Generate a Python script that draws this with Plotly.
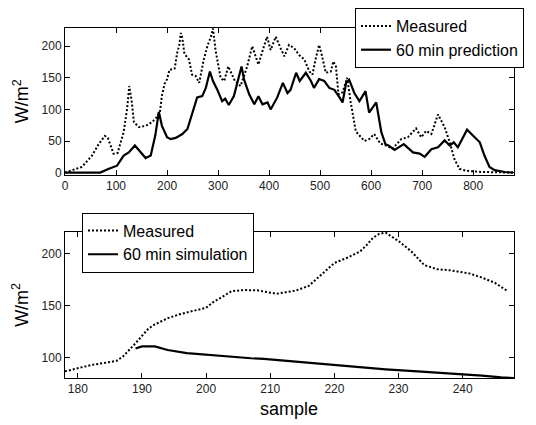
import plotly.graph_objects as go

# ---- top panel data ----
top_meas_x = [0, 14, 33, 53, 66, 78, 84, 95, 103, 115, 122, 126, 131, 135, 145, 158, 171, 180, 186,
              190, 195, 200, 205, 210, 215, 220, 224, 227, 230, 234, 238, 243, 249, 256, 263, 272,
              279, 286, 290, 295, 305, 312, 320, 325, 333, 344, 357, 367, 379, 390, 396, 403, 413,
              423, 430, 439, 449, 459, 469, 479, 485, 491, 498, 504, 511, 521, 526, 531, 536, 544,
              553, 560, 570, 587, 596, 606, 618, 629, 642, 659, 672, 688, 698, 708, 718, 731, 744,
              754, 763, 773, 786, 800, 818, 880]
top_meas_y = [0, 3.7, 9, 27, 45, 58, 55, 30, 31, 64, 103, 137, 111, 80, 72, 74, 80, 88, 96,
              122, 140, 148, 163, 163, 165, 190, 202, 221, 213, 188, 184, 179, 155, 153, 142, 179,
              200, 215, 228, 194, 150, 145, 168, 158, 145, 137, 168, 200, 171, 200, 215, 194, 215,
              196, 184, 202, 197, 186, 179, 160, 155, 179, 202, 184, 158, 160, 176, 168, 124, 127,
              150, 111, 65, 50, 53, 61, 46, 43, 38, 53, 56, 70, 56, 66, 61, 92, 72,
              48, 22, 6, 3, 2, 1, 0]

top_pred_x = [0, 69, 86, 102, 115, 125, 137, 148, 158, 168, 177, 184, 190, 200, 207, 217, 230, 240,
              246, 251, 259, 269, 276, 284, 290, 298, 308, 314, 321, 331, 338, 346, 351, 361, 371,
              379, 387, 397, 403, 416, 427, 436, 442, 453, 460, 472, 482, 488, 498, 508, 518, 528,
              538, 544, 551, 557, 567, 577, 589, 596, 610, 620, 628, 634, 646, 664, 682, 695, 705,
              718, 731, 744, 754, 762, 770, 780, 788, 799, 813, 822, 832, 842, 862, 878]
top_pred_y = [0, 0, 6, 11, 27, 32, 43, 32, 23, 27, 59, 96, 74, 56, 53, 55, 61, 69,
              85, 100, 119, 121, 134, 160, 145, 132, 113, 117, 107, 121, 145, 168, 147, 124, 108,
              121, 108, 111, 100, 119, 142, 126, 131, 158, 145, 158, 145, 134, 148, 145, 134, 131,
              119, 111, 142, 147, 126, 113, 129, 95, 111, 64, 45, 43, 36, 45, 32, 30, 25,
              37, 40, 51, 43, 48, 40, 56, 68, 59, 48, 27, 9, 4, 1, 0]

# ---- bottom panel data ----
bot_meas_x = [178, 180, 182, 184, 186, 187, 188, 189, 190, 191, 192, 194, 196, 198, 200, 201, 203,
              204, 206, 208, 210, 211, 212, 214, 216, 218, 220, 222, 224, 225, 226, 227, 228, 229,
              230, 232, 233, 234, 236, 238, 241, 243, 245, 247]
bot_meas_y = [87, 90, 93, 95, 97, 101, 107, 114, 121, 128, 132, 138, 142, 145, 148, 153, 160,
              164, 165, 164.7, 162.5, 161.5, 162.5, 164.5, 169, 180, 191, 196, 202, 208, 215, 219, 220, 216,
              212, 202, 195, 189, 185, 184, 181, 177, 172, 164]

bot_sim_x = [189, 190, 192, 194, 197, 199, 201, 204, 207, 209, 212, 216, 220, 224, 228, 233, 239,
             243, 246, 248]
bot_sim_y = [109, 111, 111, 107.5, 104.5, 103.5, 102, 101, 99.6, 99, 97.4, 95.8, 93.3, 91, 89, 87,
             84.8, 83, 81.2, 80.6]

# The page body has an 8px margin, so the figure is 8px smaller than the window
OFF = 8
W, H = 536 - OFF, 425 - OFF


def px(X):
    return (X - OFF) / W


def py(Y):
    return 1 - (Y - OFF) / H


FONT = "Liberation Sans, Arial, sans-serif"
DOT = "2px,2px"

fig = go.Figure()
fig.add_trace(go.Scatter(x=top_meas_x, y=top_meas_y, mode="lines", name="Measured",
                         line=dict(color="black", width=2, dash=DOT), xaxis="x", yaxis="y",
                         legend="legend"))
fig.add_trace(go.Scatter(x=top_pred_x, y=top_pred_y, mode="lines", name="60 min prediction",
                         line=dict(color="black", width=2.2), xaxis="x", yaxis="y",
                         legend="legend"))
fig.add_trace(go.Scatter(x=bot_meas_x, y=bot_meas_y, mode="lines", name="Measured",
                         line=dict(color="black", width=2, dash=DOT), xaxis="x2", yaxis="y2",
                         legend="legend2"))
fig.add_trace(go.Scatter(x=bot_sim_x, y=bot_sim_y, mode="lines", name="60 min simulation",
                         line=dict(color="black", width=2.2), xaxis="x2", yaxis="y2",
                         legend="legend2"))

xdom = [px(65), px(514)]
ax_common = dict(showline=True, linecolor="black", linewidth=1, mirror="ticks",
                 ticks="inside", ticklen=5, tickcolor="black", showgrid=False, zeroline=False,
                 tickfont=dict(family=FONT, size=12, color="#222"), automargin=False)

fig.update_layout(
    width=W, height=H,
    margin=dict(l=0, r=0, t=0, b=0),
    paper_bgcolor="white", plot_bgcolor="white",
    font=dict(family=FONT, color="black"),
    xaxis=dict(domain=xdom, anchor="y", range=[0, 880], tickvals=list(range(0, 801, 100)),
               **ax_common),
    yaxis=dict(domain=[py(172.7), py(25)], anchor="x", range=[-3, 229],
               tickvals=[0, 50, 100, 150, 200], **ax_common),
    xaxis2=dict(domain=xdom, anchor="y2", range=[178, 248], tickvals=list(range(180, 241, 10)),
                **ax_common),
    yaxis2=dict(domain=[py(377.7), py(230.7)], anchor="x2", range=[80.6, 220.6],
                tickvals=[100, 150, 200], **ax_common),
    legend=dict(x=px(355), y=py(4.5), xanchor="left", yanchor="top",
                bgcolor="white", bordercolor="black", borderwidth=1,
                font=dict(family=FONT, size=16, color="black"), tracegroupgap=0),
    legend2=dict(x=px(82), y=py(211), xanchor="left", yanchor="top",
                 bgcolor="white", bordercolor="black", borderwidth=1,
                 font=dict(family=FONT, size=16, color="black"), tracegroupgap=0),
    showlegend=True,
    annotations=[
        dict(text="W/m<sup>2</sup>", x=px(21), y=py(99), xref="paper", yref="paper",
             textangle=-90, showarrow=False, xanchor="center", yanchor="middle",
             font=dict(family=FONT, size=18, color="black")),
        dict(text="W/m<sup>2</sup>", x=px(21), y=py(304), xref="paper", yref="paper",
             textangle=-90, showarrow=False, xanchor="center", yanchor="middle",
             font=dict(family=FONT, size=18, color="black")),
        dict(text="sample", x=px(289), y=py(409), xref="paper", yref="paper",
             showarrow=False, xanchor="center", yanchor="middle",
             font=dict(family=FONT, size=18, color="black")),
    ],
)

fig.write_html("out.html")
